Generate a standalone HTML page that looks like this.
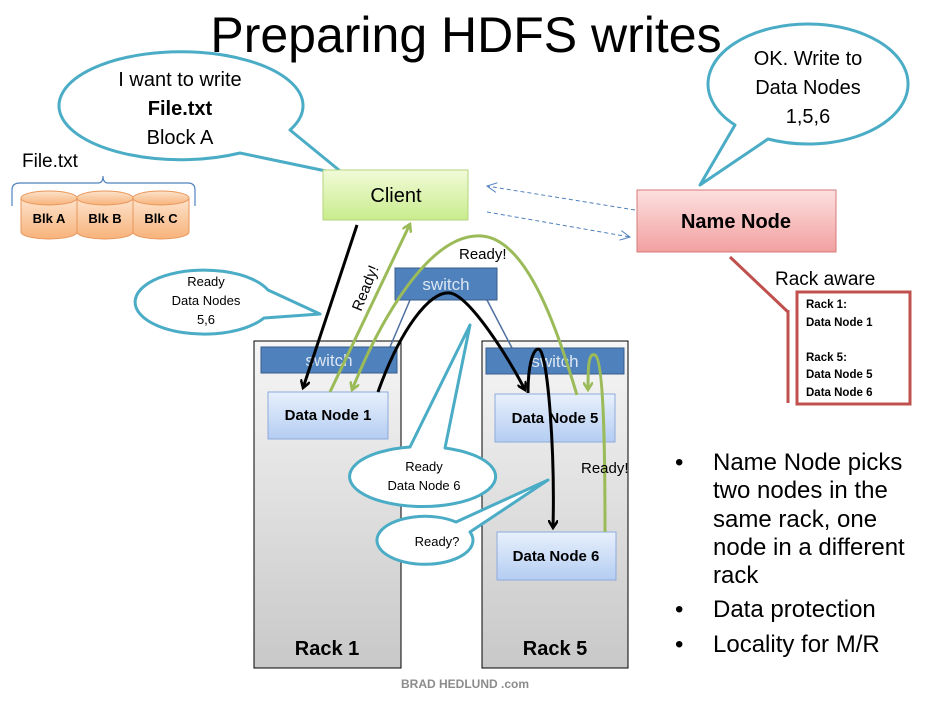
<!DOCTYPE html>
<html><head><meta charset="utf-8"><style>
html,body{margin:0;padding:0;background:#fff;}
svg{display:block;font-family:"Liberation Sans",sans-serif;}
</style></head><body>
<svg width="935" height="703" viewBox="0 0 935 703" xmlns="http://www.w3.org/2000/svg">
<defs>
<linearGradient id="gGreen" x1="0" y1="0" x2="0" y2="1"><stop offset="0" stop-color="#f1fbd9"/><stop offset="1" stop-color="#c9ec8c"/></linearGradient>
<linearGradient id="gRed" x1="0" y1="0" x2="0" y2="1"><stop offset="0" stop-color="#fde0e0"/><stop offset="1" stop-color="#f2a0a0"/></linearGradient>
<linearGradient id="gBlue" x1="0" y1="0" x2="0" y2="1"><stop offset="0" stop-color="#e8f0fc"/><stop offset="1" stop-color="#b4cdf2"/></linearGradient>
<linearGradient id="gRack" x1="0" y1="0" x2="0" y2="1"><stop offset="0" stop-color="#f6f6f6"/><stop offset="1" stop-color="#c8c8c8"/></linearGradient>
<linearGradient id="gCyl" x1="0" y1="0" x2="0" y2="1"><stop offset="0" stop-color="#fde3cc"/><stop offset="1" stop-color="#f7b27a"/></linearGradient>
<marker id="aBlk" markerWidth="10" markerHeight="10" refX="8" refY="5" orient="auto" markerUnits="userSpaceOnUse"><path d="M0,0 L8,5 L0,10" fill="none" stroke="#000" stroke-width="2.5"/></marker>
<marker id="aGrn" markerWidth="10" markerHeight="10" refX="8" refY="5" orient="auto" markerUnits="userSpaceOnUse"><path d="M0,0 L8,5 L0,10" fill="none" stroke="#9bbb59" stroke-width="2.5"/></marker>
<marker id="aDash" markerWidth="12" markerHeight="10" refX="10" refY="5" orient="auto" markerUnits="userSpaceOnUse"><path d="M0,0 L10,5 L0,10" fill="none" stroke="#4f81bd" stroke-width="1"/></marker>
</defs>

<text x="466" y="52" font-size="50" text-anchor="middle" fill="#000">Preparing HDFS writes</text>

<!-- callout 1 -->
<path d="M290,130 L345,175 L240,153 A122,54 0 1 1 290,130 Z" fill="#fff" stroke="#4bacc6" stroke-width="3" stroke-linejoin="round"/>
<text x="180" y="86" font-size="20" text-anchor="middle">I want to write</text>
<text x="180" y="115" font-size="20" text-anchor="middle" font-weight="bold">File.txt</text>
<text x="180" y="144" font-size="20" text-anchor="middle">Block A</text>

<!-- callout 2 -->
<path d="M768,139 L700,185 L735,125 A100,60 0 1 1 768,139 Z" fill="#fff" stroke="#4bacc6" stroke-width="3" stroke-linejoin="round"/>
<text x="808" y="65" font-size="20" text-anchor="middle">OK. Write to</text>
<text x="808" y="94" font-size="20" text-anchor="middle">Data Nodes</text>
<text x="808" y="123" font-size="20" text-anchor="middle">1,5,6</text>

<!-- file.txt -->
<text x="22" y="167" font-size="19">File.txt</text>
<path d="M12,206 L12,190 Q12,183 20,183 L98,183 Q103,183 103,176 Q103,183 108,183 L188,183 Q195,183 195,190 L195,206" fill="none" stroke="#4f81bd" stroke-width="1.2"/>
<g stroke="#e8965a" stroke-width="1" fill="url(#gCyl)">
<path d="M21,198 L21,232 A28,7 0 0 0 77,232 L77,198"/><ellipse cx="49" cy="198" rx="28" ry="7"/>
<path d="M77,198 L77,232 A28,7 0 0 0 133,232 L133,198"/><ellipse cx="105" cy="198" rx="28" ry="7"/>
<path d="M133,198 L133,232 A28,7 0 0 0 189,232 L189,198"/><ellipse cx="161" cy="198" rx="28" ry="7"/>
</g>
<g font-size="13" font-weight="bold" text-anchor="middle"><text x="49" y="223">Blk A</text><text x="105" y="223">Blk B</text><text x="161" y="223">Blk C</text></g>

<!-- client -->
<rect x="323" y="170" width="145" height="50" fill="url(#gGreen)" stroke="#b5d47e"/>
<text x="396" y="202" font-size="20" text-anchor="middle">Client</text>

<!-- name node -->
<rect x="637" y="190" width="199" height="62" fill="url(#gRed)" stroke="#d47a7a"/>
<text x="736" y="228" font-size="20" font-weight="bold" text-anchor="middle">Name Node</text>

<line x1="635" y1="210" x2="487" y2="186" stroke="#4f81bd" stroke-dasharray="4,3" marker-end="url(#aDash)"/>
<line x1="487" y1="212" x2="630" y2="237" stroke="#4f81bd" stroke-dasharray="4,3" marker-end="url(#aDash)"/>

<!-- rack aware -->
<line x1="730" y1="257" x2="788" y2="312" stroke="#c0504d" stroke-width="3"/>
<line x1="788" y1="310" x2="788" y2="403" stroke="#c0504d" stroke-width="3"/>
<text x="775" y="285" font-size="19">Rack aware</text>
<rect x="797" y="292" width="113" height="112" fill="#fff" stroke="#c0504d" stroke-width="3"/>
<g font-size="11.5" font-weight="bold"><text x="806" y="308">Rack 1:</text><text x="806" y="326">Data Node 1</text><text x="806" y="361">Rack 5:</text><text x="806" y="378">Data Node 5</text><text x="806" y="396">Data Node 6</text></g>

<!-- Ready data nodes callout -->
<path d="M264,318 L320,314 L268,290 A69,32 0 1 0 264,318 Z" fill="#fff" stroke="#4bacc6" stroke-width="3" stroke-linejoin="round"/>
<g font-size="13" text-anchor="middle"><text x="206" y="286">Ready</text><text x="206" y="305">Data Nodes</text><text x="206" y="324">5,6</text></g>

<!-- racks -->
<rect x="254" y="341" width="147" height="327" fill="url(#gRack)" stroke="#000"/>
<rect x="482" y="341" width="146" height="327" fill="url(#gRack)" stroke="#000"/>
<text x="327" y="655" font-size="20" font-weight="bold" text-anchor="middle">Rack 1</text>
<text x="555" y="655" font-size="20" font-weight="bold" text-anchor="middle">Rack 5</text>

<line x1="410" y1="300" x2="390" y2="347" stroke="#4f6f9f" stroke-width="1.5"/>
<line x1="487" y1="300" x2="512" y2="348" stroke="#4f6f9f" stroke-width="1.5"/>

<g fill="#4f81bd" stroke="#385d8a">
<rect x="261" y="347" width="136" height="26"/>
<rect x="395" y="268" width="102" height="32"/>
<rect x="486" y="348" width="138" height="26"/>
</g>
<g fill="#dce6f2" font-size="17" text-anchor="middle"><text x="329" y="366">switch</text><text x="446" y="290">switch</text><text x="555" y="367">switch</text></g>

<g fill="url(#gBlue)" stroke="#8eaadb">
<rect x="268" y="392" width="120" height="47"/>
<rect x="495" y="394" width="120" height="48"/>
<rect x="497" y="532" width="119" height="48"/>
</g>
<g font-size="15" font-weight="bold" text-anchor="middle"><text x="328" y="420">Data Node 1</text><text x="555" y="423">Data Node 5</text><text x="556" y="561">Data Node 6</text></g>

<!-- Ready DN6 callout -->
<path d="M410,447 L470,325 L445,448 A73,30 0 1 1 410,447 Z" fill="#fff" stroke="#4bacc6" stroke-width="3" stroke-linejoin="round"/>
<g font-size="13" text-anchor="middle"><text x="424" y="471">Ready</text><text x="424" y="490">Data Node 6</text></g>
<!-- Ready? -->
<path d="M470,532 L548,480 L456,522 A48,24 0 1 0 470,532 Z" fill="#fff" stroke="#4bacc6" stroke-width="3" stroke-linejoin="round"/>
<text x="437" y="546" font-size="13" text-anchor="middle">Ready?</text>

<!-- arrows -->
<g fill="none" stroke-width="3">
<line x1="357" y1="225" x2="303" y2="388" stroke="#000" marker-end="url(#aBlk)"/>
<line x1="330" y1="392" x2="410" y2="224" stroke="#9bbb59" marker-end="url(#aGrn)"/>
<path d="M378,392 C400,330 430,290 450,293 C470,296 510,360 525,390" stroke="#000" marker-end="url(#aBlk)"/>
<path d="M577,395 C560,340 530,240 482,236 C430,232 380,320 352,390" stroke="#9bbb59" marker-end="url(#aGrn)"/>
<path d="M528,393 C528,360 535,345 540,350 C548,360 555,450 553,528" stroke="#000" marker-end="url(#aBlk)"/>
<path d="M605,532 C605,480 605,360 595,355 C588,352 588,370 588,390" stroke="#9bbb59" marker-end="url(#aGrn)"/>
</g>
<text x="0" y="0" font-size="15" transform="translate(361,312) rotate(-68)">Ready!</text>
<text x="459" y="259" font-size="15">Ready!</text>
<text x="581" y="473" font-size="15">Ready!</text>

<!-- bullets -->
<g font-size="24" fill="#000">
<text x="675" y="470">•</text><text x="713" y="470">Name Node picks</text>
<text x="713" y="498">two nodes in the</text>
<text x="713" y="527">same rack, one</text>
<text x="713" y="555">node in a different</text>
<text x="713" y="583">rack</text>
<text x="675" y="617">•</text><text x="713" y="617">Data protection</text>
<text x="675" y="652">•</text><text x="713" y="652">Locality for M/R</text>
</g>
<text x="465" y="688" font-size="12" font-weight="bold" fill="#8c8c8c" text-anchor="middle">BRAD HEDLUND .com</text>
</svg>
</body></html>
